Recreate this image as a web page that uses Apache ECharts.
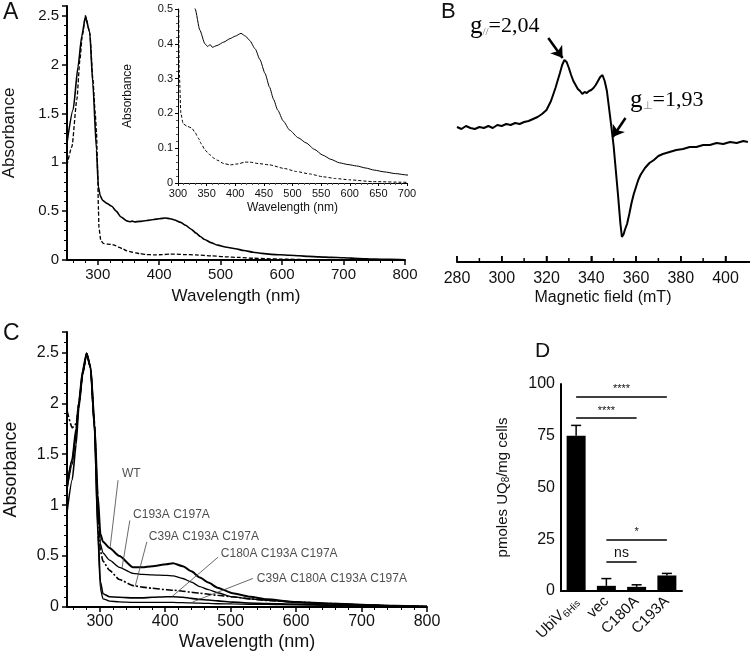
<!DOCTYPE html>
<html>
<head>
<meta charset="utf-8">
<script src="https://cdn.jsdelivr.net/npm/echarts@6.0.0/dist/echarts.min.js"></script>
<style>
  html, body { margin: 0; padding: 0; background: #fff; }
  #chart { width: 750px; height: 658px; }
</style>
</head>
<body>
<div id="chart"></div>
<script>
// panel A: UV-vis of UbiV (solid) and apo (dashed)
var waveA1 = [250,260,268,274,280,287,292,298,301,304,308,315,323,330,338,347,352,356,360,368,380,391,400,410,418,425,435,443,452,460,467,474,484,495,510,524,538,553,567,582,597,612,628,643,660,680,700,725,750,775,800];
var absA1 = [1.2,1.54,1.98,2.29,2.49,2.33,1.81,1.13,0.75,0.66,0.61,0.58,0.55,0.5,0.44,0.40,0.392,0.398,0.39,0.395,0.405,0.415,0.422,0.43,0.422,0.41,0.385,0.355,0.315,0.275,0.24,0.21,0.178,0.152,0.13,0.115,0.097,0.08,0.068,0.058,0.053,0.049,0.043,0.037,0.032,0.027,0.023,0.016,0.01,0.006,0.003];
var waveA2 = [250,258,266,271,275,280,287,292,296,298,300,301,302,305,309,316,324,330,335,341,347,355,362,368,380,391,405,417,425,440,460,485,507,530,553,575,600,640,700,800];
var absA2 = [0.97,1.16,1.64,2.05,2.3,2.5,2.33,1.86,1.5,1.3,0.9,0.55,0.33,0.2,0.17,0.163,0.158,0.145,0.13,0.112,0.095,0.082,0.072,0.066,0.056,0.052,0.055,0.06,0.06,0.056,0.052,0.042,0.033,0.026,0.018,0.013,0.009,0.004,0.002,0];
var labelTicksA = [300,400,500,600,700,800];
var minorTicksA = [260,280,320,340,360,380,420,440,460,480,520,540,560,580,620,640,660,680,720,740,760,780];

// panel B: EPR spectrum
var fieldB = [280,282,284,286,288,290,292,294,296,298,300,302,304,306,308,310,312,314,316,318,320,322,324,326,327,328,329,330,331,332,333,334,335,336,337,338,339,340,341,342,343,344,345,346,347,348,349,350,351,352,353,353.7,354.5,355,356,357,358,359,360,361,362,364,366,368,370,372,375,378,381,384,387,390,393,396,399,402,405,408,410];
var signalB = [14,12,15,13,12,14,13,15,13,16,15,17,16,18,17,19,20,22,24,27,31,40,53,68,76,81,79,73,66,60,56,52,50,47,49,48,50,51,53,56,60,64,66,60,50,32,14,-5,-30,-55,-82,-96,-93,-89,-83,-73,-62,-53,-46,-39,-34,-27,-22,-19,-15,-13,-11,-9,-8,-6,-6,-4,-4,-2,-3,-1,-2,0,-1];
var labelTicksB = [280,300,320,340,360,380,400];
var minorTicksB = [290,310,330,350,370,390];

// panel C: cysteine mutants
var waveC = [250,258,264,268,274,280,286,292,297,301,305,315,330,351,365,380,402,412,427,440,453,466,480,503,530,555,600,650,700,750,800];
var namesC = ['WT', 'C193A C197A', 'C39A C193A C197A', 'C180A C193A C197A', 'C39A C180A C193A C197A'];
var absWT = [1.18,1.45,1.75,2.0,2.32,2.49,2.35,1.8,1.1,0.72,0.64,0.58,0.5,0.39,0.39,0.40,0.42,0.43,0.40,0.35,0.29,0.24,0.19,0.135,0.1,0.075,0.05,0.035,0.022,0.012,0.005];
var absC193 = [1.15,1.4,1.7,1.97,2.3,2.49,2.35,1.8,1.05,0.62,0.53,0.46,0.39,0.33,0.32,0.315,0.31,0.305,0.28,0.245,0.2,0.17,0.14,0.1,0.08,0.065,0.045,0.03,0.02,0.01,0.005];
var absC39 = [1.93,1.76,1.8,2.0,2.3,2.49,2.35,1.8,1.0,0.55,0.45,0.36,0.27,0.21,0.195,0.185,0.17,0.165,0.155,0.145,0.135,0.125,0.115,0.1,0.08,0.065,0.048,0.035,0.022,0.012,0.005];
var absC180 = [0.93,1.25,1.6,1.95,2.28,2.49,2.35,1.75,0.8,0.25,0.13,0.1,0.095,0.09,0.09,0.095,0.1,0.1,0.095,0.085,0.075,0.068,0.06,0.048,0.04,0.035,0.028,0.02,0.012,0.006,0.002];
var absC39180 = [1.2,1.45,1.72,1.98,2.3,2.49,2.35,1.72,0.7,0.18,0.08,0.058,0.05,0.045,0.045,0.045,0.045,0.045,0.042,0.04,0.038,0.035,0.032,0.03,0.027,0.025,0.02,0.015,0.01,0.005,0.002];

// panel D: UQ8 content
var catsD = ['UbiV6His', 'vec', 'C180A', 'C193A'];
var valD = [75, 2.5, 2, 7.5];
var errD = [5, 3.5, 1, 1];
var sigD = [
  {from: 0, to: 3, y: 94, text: '****'},
  {from: 0, to: 2, y: 83.5, text: '****'},
  {from: 1, to: 3, y: 25, text: '*'},
  {from: 1, to: 2, y: 14, text: 'ns'}
];

var font = 'Liberation Sans, Arial, sans-serif';
var ink = '#111';
var bMin = -121, bMax = 131;   // signal range of panel B (arbitrary units)
var fMin = 280, fMax = 410.5;  // field range of panel B

function zip(xs, ys) {
  return xs.map(function(x, i) { return [x, ys[i]]; });
}
function line(w) {
  return {show: true, onZero: false, lineStyle: {color: '#000', width: w}};
}
// an extra axis on the same grid that only draws a set of ticks
function tickAxis(grid, min, max, values, len) {
  return {gridIndex: grid, type: 'value', min: min, max: max, position: 'bottom',
    axisLine: {show: false, onZero: false},
    axisTick: {show: true, customValues: values, length: len,
      lineStyle: {color: '#000', width: 1}},
    axisLabel: {show: false}, splitLine: {show: false}};
}
function hiddenAxis(grid, min, max) {
  return {gridIndex: grid, type: 'value', min: min, max: max, show: false,
    axisLine: {show: false, onZero: false}, splitLine: {show: false}};
}

var chart = echarts.init(document.getElementById('chart'));

var grids = [
  {left: 67, top: 6, width: 338, height: 254},
  {left: 178, top: 9, width: 229, height: 174},
  {left: 457, top: 10, width: 292, height: 252},
  {left: 67, top: 332, width: 360, height: 275},
  {left: 561, top: 384, width: 121, height: 207}
].map(function(g) {
  g.containLabel = false;
  g.outerBoundsMode = 'none';
  return g;
});

var xAxes = [
  // 0 A main
  {gridIndex: 0, type: 'value', min: 250, max: 800, position: 'bottom',
    axisLine: line(2),
    axisTick: {customValues: labelTicksA, length: 5, lineStyle: {color: '#000', width: 1.5}},
    axisLabel: {customValues: labelTicksA, fontSize: 15, color: ink, margin: 7},
    splitLine: {show: false},
    name: 'Wavelength (nm)', nameLocation: 'middle', nameGap: 28,
    nameTextStyle: {fontSize: 17, color: ink}},
  // 1 A minor ticks
  tickAxis(0, 250, 800, minorTicksA, 3),
  // 2 A inset
  {gridIndex: 1, type: 'value', min: 300, max: 700, interval: 50, position: 'bottom',
    axisLine: line(1),
    axisTick: {length: 3, lineStyle: {color: '#000'}},
    minorTick: {show: true, splitNumber: 5, length: 2, lineStyle: {color: '#555'}},
    axisLabel: {fontSize: 11, color: ink, margin: 5},
    splitLine: {show: false},
    name: 'Wavelength (nm)', nameLocation: 'middle', nameGap: 19,
    nameTextStyle: {fontSize: 12, color: ink}},
  // 3 B field axis (labels and name; line and ticks added below)
  {gridIndex: 2, type: 'value', min: fMin, max: fMax, position: 'bottom',
    axisLine: line(2),
    axisTick: {show: true, customValues: labelTicksB, inside: true, length: 6,
      lineStyle: {color: '#000', width: 1.5}},
    axisLabel: {customValues: labelTicksB, fontSize: 16, color: ink, margin: 9},
    splitLine: {show: false},
    name: 'Magnetic field (mT)', nameLocation: 'middle', nameGap: 28,
    nameTextStyle: {fontSize: 16, color: ink}},
  // 4 C main
  {gridIndex: 3, type: 'value', min: 250, max: 800, position: 'bottom',
    axisLine: line(2),
    axisTick: {customValues: labelTicksA, length: 5, lineStyle: {color: '#000', width: 1.5}},
    axisLabel: {customValues: labelTicksA, fontSize: 16, color: ink, margin: 7},
    splitLine: {show: false},
    name: 'Wavelength (nm)', nameLocation: 'middle', nameGap: 26,
    nameTextStyle: {fontSize: 18, color: ink}},
  // 5 C minor ticks
  tickAxis(3, 250, 800, minorTicksA, 3),
  // 6 D
  {gridIndex: 4, type: 'category', data: catsD, position: 'bottom',
    axisLine: line(2),
    axisTick: {alignWithLabel: true, length: 6, lineStyle: {color: '#000', width: 1.5}},
    axisLabel: {rotate: 45, margin: 8, color: ink, interval: 0,
      formatter: function(v) {
        if (v.indexOf('UbiV') === 0) return '{n|UbiV}{s|' + v.slice(4) + '}';
        return '{n|' + v + '}';
      },
      rich: {n: {fontSize: 15, fontFamily: font, color: ink},
             s: {fontSize: 10, fontFamily: font, color: ink, padding: [8, 0, 0, 0]}}},
    splitLine: {show: false}}
];

var yAxes = [
  {gridIndex: 0, type: 'value', min: 0, max: 2.6, interval: 0.5,
    axisLine: line(2),
    axisTick: {length: 5, lineStyle: {color: '#000', width: 1.5}},
    minorTick: {show: true, splitNumber: 5, length: 3, lineStyle: {color: '#000'}},
    axisLabel: {fontSize: 15, color: ink, showMaxLabel: false, margin: 8},
    splitLine: {show: false},
    name: 'Absorbance', nameLocation: 'middle', nameGap: 49,
    nameTextStyle: {fontSize: 17, color: ink}},
  {gridIndex: 1, type: 'value', min: 0, max: 0.5, interval: 0.1,
    axisLine: line(1),
    axisTick: {length: 3, lineStyle: {color: '#000'}},
    minorTick: {show: true, splitNumber: 5, length: 2, lineStyle: {color: '#555'}},
    axisLabel: {fontSize: 11, color: ink, margin: 5},
    splitLine: {show: false},
    name: 'Absorbance', nameLocation: 'middle', nameGap: 44,
    nameTextStyle: {fontSize: 12, color: ink}},
  // B signal scale, not drawn
  hiddenAxis(2, bMin, bMax),
  {gridIndex: 3, type: 'value', min: 0, max: 2.7, interval: 0.5,
    axisLine: line(2),
    axisTick: {length: 5, lineStyle: {color: '#000', width: 1.5}},
    minorTick: {show: true, splitNumber: 5, length: 3, lineStyle: {color: '#000'}},
    axisLabel: {fontSize: 16, color: ink, showMaxLabel: false, margin: 8},
    splitLine: {show: false},
    name: 'Absorbance', nameLocation: 'middle', nameGap: 47,
    nameTextStyle: {fontSize: 18, color: ink}},
  {gridIndex: 4, type: 'value', min: 0, max: 100, interval: 25,
    axisLine: line(2),
    axisTick: {length: 6, lineStyle: {color: '#000', width: 1.5}},
    axisLabel: {fontSize: 16, color: ink, margin: 6},
    splitLine: {show: false},
    name: 'pmoles UQ{s|8}/mg cells', nameLocation: 'middle', nameGap: 50,
    nameTextStyle: {fontSize: 15, color: ink,
      rich: {s: {fontSize: 10, color: ink, padding: [6, 0, 0, 0]}}}}
];

function spectrum(data, xi, yi, w, type) {
  return {type: 'line', xAxisIndex: xi, yAxisIndex: yi, data: data,
    showSymbol: false, smooth: 0.2, smoothMonotone: 'x', silent: true,
    lineStyle: {color: '#000', width: w, type: type || 'solid'}};
}

var series = [
  spectrum(zip(waveA1, absA1), 0, 0, 1.6),
  spectrum(zip(waveA2, absA2), 0, 0, 1.3, [4, 2]),
  spectrum(zip(waveA1, absA1), 2, 1, 1),
  spectrum(zip(waveA2, absA2), 2, 1, 1, [3, 2]),
  {type: 'line', xAxisIndex: 3, yAxisIndex: 2, data: zip(fieldB, signalB),
    showSymbol: false, silent: true,
    lineStyle: {color: '#000', width: 2},
    markLine: {silent: true, symbol: ['none', 'arrow'], symbolSize: 11,
      lineStyle: {color: '#000', width: 2.5, type: 'solid'}, label: {show: false},
      data: [
        [{coord: [320.8, 103]}, {coord: [327.2, 83]}],
        [{coord: [355.3, 23]}, {coord: [349.6, 4]}]
      ]}},
  spectrum(zip(waveC, absWT), 4, 3, 2),
  spectrum(zip(waveC, absC193), 4, 3, 1.3),
  spectrum(zip(waveC, absC39), 4, 3, 1.6, [7, 2, 2, 2]),
  spectrum(zip(waveC, absC180), 4, 3, 1.6),
  spectrum(zip(waveC, absC39180), 4, 3, 1.3),
  // labels and leader lines for panel C
  {type: 'scatter', xAxisIndex: 4, yAxisIndex: 3, symbolSize: 0, silent: true,
    data: [
      {name: namesC[0], value: [334, 1.31]},
      {name: namesC[1], value: [351, 0.91]},
      {name: namesC[2], value: [375, 0.69]},
      {name: namesC[3], value: [485, 0.52]},
      {name: namesC[4], value: [540, 0.28]}
    ],
    label: {show: true, position: 'right', distance: 0, formatter: '{b}',
      fontSize: 12, color: '#222'},
    markLine: {silent: true, symbol: 'none', label: {show: false},
      lineStyle: {color: '#444', width: 0.8, type: 'solid'},
      data: [
        [{coord: [328, 1.245]}, {coord: [316, 0.59]}],
        [{coord: [346, 0.85]}, {coord: [334, 0.38]}],
        [{coord: [372, 0.64]}, {coord: [354, 0.2]}],
        [{coord: [481, 0.49]}, {coord: [410, 0.1]}],
        [{coord: [534, 0.28]}, {coord: [442, 0.05]}]
      ]}},
  {type: 'bar', xAxisIndex: 6, yAxisIndex: 4, data: valD, barWidth: 19,
    itemStyle: {color: '#000'}, silent: true,
    markLine: {silent: true, symbol: 'none',
      lineStyle: {color: '#000', width: 1.5, type: 'solid'},
      label: {show: true, position: 'middle', formatter: '{b}', distance: 2,
        fontSize: 11, color: ink},
      data: sigD.map(function(s) {
        return [{coord: [s.from, s.y], name: s.text,
                 label: {fontSize: s.text === 'ns' ? 14 : 11}},
                {coord: [s.to, s.y]}];
      })}},
  {type: 'custom', xAxisIndex: 6, yAxisIndex: 4, silent: true, z: 3,
    data: valD.map(function(v, i) { return [i, v, errD[i]]; }),
    renderItem: function(params, api) {
      var p0 = api.coord([api.value(0), api.value(1)]);
      var p1 = api.coord([api.value(0), api.value(1) + api.value(2)]);
      var st = {stroke: '#000', lineWidth: 1.5};
      return {type: 'group', children: [
        {type: 'line', shape: {x1: p0[0], y1: p0[1], x2: p1[0], y2: p1[1]}, style: st},
        {type: 'line', shape: {x1: p1[0] - 5, y1: p1[1], x2: p1[0] + 5, y2: p1[1]}, style: st}
      ]};
    }}
];

var serif = 'Liberation Serif, Times New Roman, serif';
var graphic = [
  {type: 'text', left: 3, top: 1, style: {text: 'A', fontSize: 23, fontFamily: font, fill: ink}},
  {type: 'text', left: 441, top: 1, style: {text: 'B', fontSize: 22, fontFamily: font, fill: ink}},
  {type: 'text', left: 3, top: 322, style: {text: 'C', fontSize: 23, fontFamily: font, fill: ink}},
  {type: 'text', left: 535, top: 341, style: {text: 'D', fontSize: 21, fontFamily: font, fill: ink}},
  {type: 'line', shape: {x1: 537, y1: 378, x2: 546, y2: 378}, style: {stroke: '#bbb', lineWidth: 1}},
  {type: 'text', x: 470, y: 14, style: {
    text: '{g|g}{s|//}{t|=2,04}', fontFamily: serif,
    rich: {g: {fontSize: 25, fontFamily: serif, fill: '#000'},
           s: {fontSize: 11, fontFamily: serif, fill: '#666', padding: [12, 0, 0, 0]},
           t: {fontSize: 22, fontFamily: serif, fill: '#000'}}}},
  {type: 'text', x: 630, y: 88, style: {
    text: '{g|g}{s|⊥}{t|=1,93}', fontFamily: serif,
    rich: {g: {fontSize: 25, fontFamily: serif, fill: '#000'},
           s: {fontSize: 11, fontFamily: serif, fill: '#888', padding: [12, 0, 0, 0]},
           t: {fontSize: 22, fontFamily: serif, fill: '#000'}}}}
];

chart.setOption({
  animation: false,
  backgroundColor: '#fff',
  textStyle: {fontFamily: font},
  grid: grids,
  xAxis: xAxes,
  yAxis: yAxes,
  series: series,
  graphic: graphic
});

// field axis baseline and inside ticks of panel B, positioned through the B scale
function toPx(field, sig) {
  return chart.convertToPixel({xAxisIndex: 3, yAxisIndex: 2}, [field, sig]);
}
var p0 = toPx(fMin, bMin), p1 = toPx(fMax, bMin);
var axisMarks = [
  {type: 'line', z: 200, shape: {x1: p0[0], y1: p0[1], x2: p1[0] + 1, y2: p1[1]},
    style: {stroke: '#000', lineWidth: 2}}
];
labelTicksB.forEach(function(v) {
  var p = toPx(v, bMin);
  axisMarks.push({type: 'line', z: 200, shape: {x1: p[0], y1: p[1], x2: p[0], y2: p[1] - 6},
    style: {stroke: '#000', lineWidth: 1.5}});
});
minorTicksB.forEach(function(v) {
  var p = toPx(v, bMin);
  axisMarks.push({type: 'line', z: 200, shape: {x1: p[0], y1: p[1], x2: p[0], y2: p[1] - 4},
    style: {stroke: '#000', lineWidth: 1.5}});
});
chart.setOption({graphic: graphic.concat(axisMarks)});
</script>
</body>
</html>
